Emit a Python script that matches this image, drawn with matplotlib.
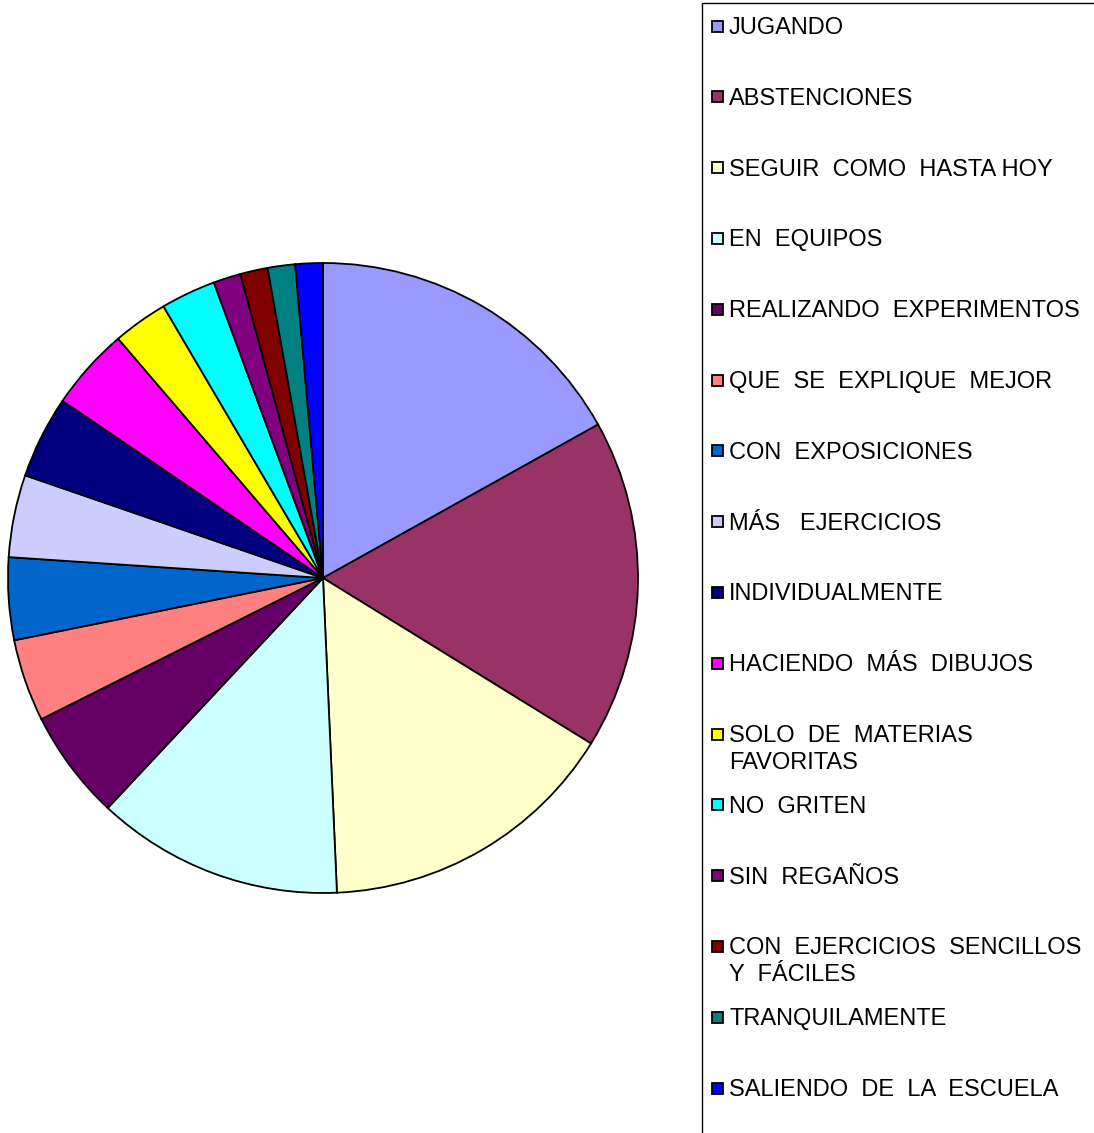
import matplotlib
matplotlib.use("Agg")
import matplotlib.pyplot as plt
from matplotlib.patches import Rectangle

plt.rcParams['font.family'] = ['Liberation Sans', 'DejaVu Sans']

categories = [
    "JUGANDO",
    "ABSTENCIONES",
    "SEGUIR  COMO  HASTA HOY",
    "EN  EQUIPOS",
    "REALIZANDO  EXPERIMENTOS",
    "QUE  SE  EXPLIQUE  MEJOR",
    "CON  EXPOSICIONES",
    "MÁS   EJERCICIOS",
    "INDIVIDUALMENTE",
    "HACIENDO  MÁS  DIBUJOS",
    "SOLO  DE  MATERIAS\nFAVORITAS",
    "NO  GRITEN",
    "SIN  REGAÑOS",
    "CON  EJERCICIOS  SENCILLOS\nY  FÁCILES",
    "TRANQUILAMENTE",
    "SALIENDO  DE  LA  ESCUELA",
]
counts = [12, 12, 11, 9, 4, 3, 3, 3, 3, 3, 2, 2, 1, 1, 1, 1]
colors = [
    "#9999FF", "#993366", "#FFFFCC", "#CCFFFF", "#660066", "#FF8080",
    "#0066CC", "#CCCCFF", "#000080", "#FF00FF", "#FFFF00", "#00FFFF",
    "#800080", "#800000", "#008080", "#0000FF",
]

W, H = 1094, 1133
fig = plt.figure(figsize=(W / 100, H / 100), dpi=100)

# Pie axes: centre (323, 578) px, radius 315 px
cx, cy, r = 323, 578, 315
ax = fig.add_axes([(cx - r) / W, (H - cy - r) / H, 2 * r / W, 2 * r / H])
ax.pie(counts, colors=colors, startangle=90, counterclock=False,
       radius=1.0, wedgeprops=dict(edgecolor="black", linewidth=1.3))
ax.set_xlim(-1, 1)
ax.set_ylim(-1, 1)
ax.set_aspect("equal")
ax.axis("off")

# Legend panel drawn in figure pixel space
def fx(px):
    return px / W

def fy(py):
    return 1 - py / H

frame = Rectangle((fx(702), fy(1140)), fx(1100) - fx(702), fy(3) - fy(1140),
                  transform=fig.transFigure, facecolor="white",
                  edgecolor="black", linewidth=1.0, zorder=0)
fig.add_artist(frame)

y0 = 26
step = 70.8
sq = 11
for i, (label, col) in enumerate(zip(categories, colors)):
    yc = y0 + i * step
    fig.add_artist(Rectangle((fx(712), fy(yc + sq / 2)), sq / W, sq / H,
                             transform=fig.transFigure, facecolor=col,
                             edgecolor="black", linewidth=1.3))
    lines = label.split("\n")
    fig.text(fx(729), fy(yc + 2), lines[0], fontsize=17,
             va="center", ha="left")
    if len(lines) > 1:
        fig.text(fx(729), fy(yc + 29), lines[1], fontsize=17,
                 va="center", ha="left")

fig.savefig("out.png", dpi=100, facecolor="white")
